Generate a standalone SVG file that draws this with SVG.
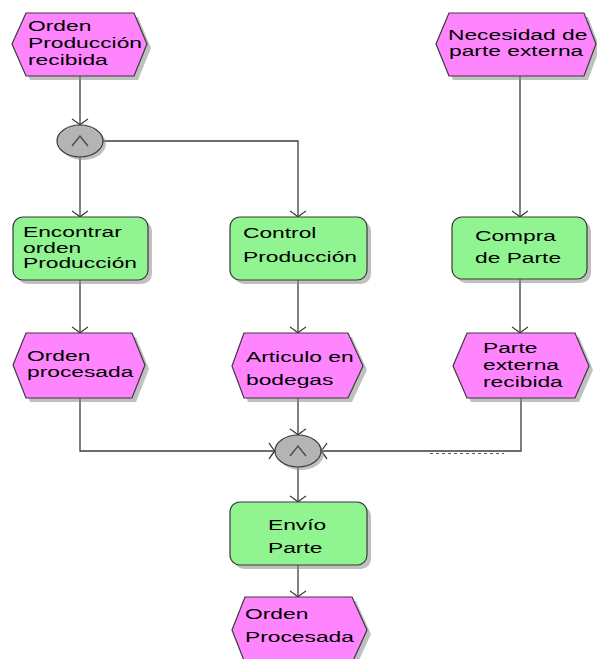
<svg xmlns="http://www.w3.org/2000/svg" width="597" height="659" viewBox="0 0 597 659">
  <defs>
    <style>
      .ev { fill: #ff85ff; stroke: #3a3a3a; stroke-width: 1.2; }
      .fn { fill: #90f590; stroke: #3a3a3a; stroke-width: 1.2; }
      .gw { fill: #b4b4b4; stroke: #3a3a3a; stroke-width: 1.2; }
      .sh { fill: #8c8c8c; opacity: 0.55; }
      .sym { fill: none; stroke: #4a4a4a; stroke-width: 1.4; }
      .t { font-family: "Liberation Sans", Arial, sans-serif; font-size: 15px; fill: #000; }
      .cn { fill: none; stroke: #3c3c3c; stroke-width: 1.3; marker-end: url(#arr); }
    </style>
    <marker id="arr" viewBox="-8 -9 10 18" markerWidth="10" markerHeight="18" refX="0" refY="0" orient="auto" markerUnits="userSpaceOnUse">
      <path d="M-6,-8 Q-2,-2 0,0 Q-2,2 -6,8" fill="none" stroke="#333" stroke-width="1.3"/>
    </marker>
  </defs>
  <rect width="597" height="659" fill="#fff"/>

  <!-- connectors -->
  <g id="connectors">
    <path class="cn" d="M80,76 V125"/>
    <path class="cn" d="M80,157 V217"/>
    <path class="cn" d="M103,141 H298 V217"/>
    <path class="cn" d="M80,280 V333"/>
    <path class="cn" d="M298,280 V333"/>
    <path class="cn" d="M520,76 V217"/>
    <path class="cn" d="M520,279 V333"/>
    <path class="cn" d="M80,398 V451 H275"/>
    <path class="cn" d="M298,398 V435"/>
    <path class="cn" d="M521,398 V451 H321"/>
    <path class="cn" d="M298,467 V502"/>
    <path class="cn" d="M298,565 V597"/>
    <path d="M430,453.5 H504" fill="none" stroke="#555" stroke-width="1.2" stroke-dasharray="3,3"/>
  </g>

  <!-- events -->
  <g id="ev-orden-produccion-recibida">
    <polygon class="sh" points="16,48 30,17 138,17 151,48 138,80 30,80"/>
    <polygon class="ev" points="12,44 26,13 134,13 147,44 134,76 26,76"/>
    <text class="t" transform="translate(28,31) scale(1.52,1)">Orden</text>
    <text class="t" transform="translate(28,48) scale(1.52,1)">Producción</text>
    <text class="t" transform="translate(28,65) scale(1.52,1)">recibida</text>
  </g>

  <g id="ev-necesidad-parte-externa">
    <polygon class="sh" points="440,48 453,17 588,17 600,48 588,80 453,80"/>
    <polygon class="ev" points="436,44 449,13 584,13 596,44 584,76 449,76"/>
    <text class="t" transform="translate(448,40) scale(1.52,1)">Necesidad de</text>
    <text class="t" transform="translate(449,56) scale(1.52,1)">parte externa</text>
  </g>

  <g id="ev-orden-procesada">
    <polygon class="sh" points="17,369 30,337 136,337 149,369 136,402 30,402"/>
    <polygon class="ev" points="13,365 26,333 132,333 145,365 132,398 26,398"/>
    <text class="t" transform="translate(27,361) scale(1.52,1)">Orden</text>
    <text class="t" transform="translate(27,377) scale(1.52,1)">procesada</text>
  </g>

  <g id="ev-articulo-en-bodegas">
    <polygon class="sh" points="236,370 248,337 352,337 367,370 352,402 248,402"/>
    <polygon class="ev" points="232,366 244,333 348,333 363,366 348,398 244,398"/>
    <text class="t" transform="translate(246,362) scale(1.52,1)">Articulo en</text>
    <text class="t" transform="translate(246,385) scale(1.52,1)">bodegas</text>
  </g>

  <g id="ev-parte-externa-recibida">
    <polygon class="sh" points="457,370 471,337 579,337 593,370 579,402 471,402"/>
    <polygon class="ev" points="453,366 467,333 575,333 589,366 575,398 467,398"/>
    <text class="t" transform="translate(483,353) scale(1.52,1)">Parte</text>
    <text class="t" transform="translate(483,370) scale(1.52,1)">externa</text>
    <text class="t" transform="translate(483,387) scale(1.52,1)">recibida</text>
  </g>

  <g id="ev-orden-procesada-final">
    <polygon class="sh" points="236,634 249,601 356,601 371,634 356,667 249,667"/>
    <polygon class="ev" points="232,630 245,597 352,597 367,630 352,663 245,663"/>
    <text class="t" transform="translate(245,619) scale(1.52,1)">Orden</text>
    <text class="t" transform="translate(245,642) scale(1.52,1)">Procesada</text>
  </g>

  <!-- functions -->
  <g id="fn-encontrar-orden">
    <rect class="sh" x="17" y="221" width="135" height="63" rx="10"/>
    <rect class="fn" x="13" y="217" width="135" height="63" rx="10"/>
    <text class="t" transform="translate(23,237) scale(1.52,1)">Encontrar</text>
    <text class="t" transform="translate(23,253) scale(1.52,1)">orden</text>
    <text class="t" transform="translate(23,268) scale(1.52,1)">Producción</text>
  </g>

  <g id="fn-control-produccion">
    <rect class="sh" x="234" y="221" width="137" height="63" rx="10"/>
    <rect class="fn" x="230" y="217" width="137" height="63" rx="10"/>
    <text class="t" transform="translate(243,238) scale(1.52,1)">Control</text>
    <text class="t" transform="translate(243,262) scale(1.52,1)">Producción</text>
  </g>

  <g id="fn-compra-parte">
    <rect class="sh" x="456" y="221" width="135" height="62" rx="10"/>
    <rect class="fn" x="452" y="217" width="135" height="62" rx="10"/>
    <text class="t" transform="translate(475,241) scale(1.52,1)">Compra</text>
    <text class="t" transform="translate(475,263) scale(1.52,1)">de Parte</text>
  </g>

  <g id="fn-envio-parte">
    <rect class="sh" x="234" y="506" width="137" height="63" rx="10"/>
    <rect class="fn" x="230" y="502" width="137" height="63" rx="10"/>
    <text class="t" transform="translate(268,530) scale(1.52,1)">Envío</text>
    <text class="t" transform="translate(268,553) scale(1.52,1)">Parte</text>
  </g>

  <!-- AND connectors -->
  <g id="and-1">
    <ellipse class="sh" cx="83" cy="144" rx="23" ry="16"/>
    <ellipse class="gw" cx="80" cy="141" rx="23" ry="16"/>
    <path class="sym" d="M72,146 L80,136 L88,146"/>
  </g>

  <g id="and-2">
    <ellipse class="sh" cx="301" cy="454" rx="23" ry="16"/>
    <ellipse class="gw" cx="298" cy="451" rx="23" ry="16"/>
    <path class="sym" d="M290,456 L298,446 L306,456"/>
  </g>
</svg>
